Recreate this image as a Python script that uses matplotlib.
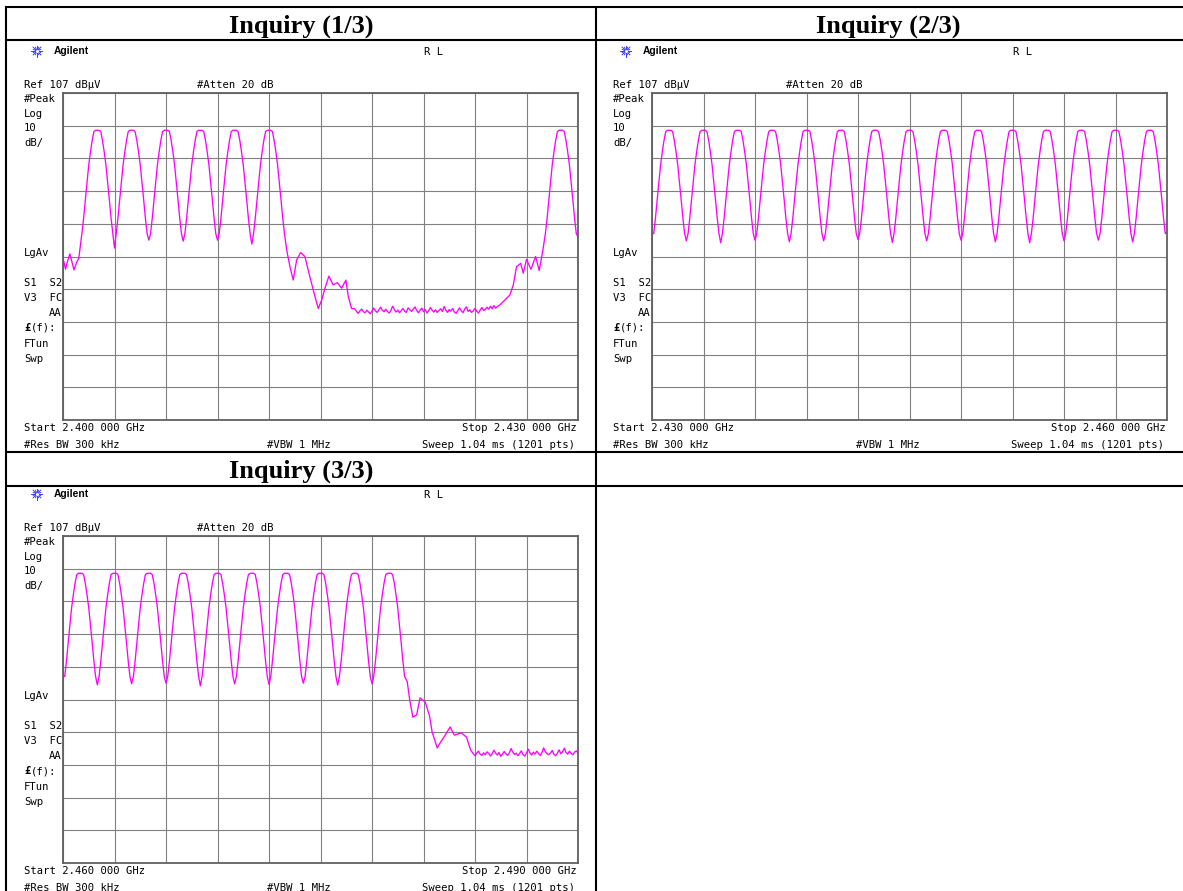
#! /usr/bin/env python3
#
import matplotlib
matplotlib.use('Agg')
import matplotlib.pyplot as plt
import numpy as np

W, H = 1183, 891

titles = ['Inquiry (1/3)', 'Inquiry (2/3)', 'Inquiry (3/3)']
f_start = [2400, 2430, 2460]     # MHz
f_stop = [2430, 2460, 2490]
ref_level = 107                  # dBuV
atten = 20
db_div = 10
res_bw = '300 kHz'
vbw = '1 MHz'
sweep = '1.04 ms (1201 pts)'

# inquiry burst centres seen on each sweep (MHz)
chan_1_low = [2402, 2404, 2406, 2408, 2410, 2412]
chan_1_high = [2429]
chan_2 = [2431, 2433, 2435, 2437, 2439, 2441, 2443, 2445,
          2447, 2449, 2451, 2453, 2455, 2457, 2459]
chan_3 = [2461, 2463, 2465, 2467, 2469, 2471, 2473, 2475, 2477, 2479]

# max-hold shape of one burst: offset from centre (MHz), level (dBuV)
burst_off = [-0.9, -0.8, -0.7, -0.6, -0.5, -0.4, -0.3, -0.2, -0.1, 0.0,
             0.1, 0.2, 0.3, 0.4, 0.5, 0.6, 0.7, 0.8, 0.9]
burst_lvl = [64.0, 68.7, 74.3, 79.7, 85.0, 89.0, 92.5, 95.2, 95.6, 95.6,
             95.6, 95.2, 92.5, 89.0, 85.0, 79.7, 74.3, 68.7, 64.0]

# dips between neighbouring bursts (dBuV)
dip_1 = [59.6, 62.0, 61.7, 62.0, 60.8]
dip_2 = [61.8, 61.2, 62.0, 61.5, 61.8, 62.2, 61.3, 61.8, 62.0, 61.5,
         61.2, 61.8, 62.0, 61.5]
dip_3 = [61.5, 61.8, 62.0, 61.2, 61.8, 61.6, 62.0, 61.4, 61.8]

# sweep 1: left edge, skirt after 2412, rise before 2429
edge_1_f = [2400.0, 2400.15, 2400.25, 2400.4, 2400.52, 2400.64, 2400.8, 2400.92]
edge_1_db = [56.5, 53.1, 55.3, 57.8, 55.3, 52.9, 55.3, 56.5]
skirt_1_f = [2413.03, 2413.22, 2413.41, 2413.61, 2413.84, 2414.09, 2414.38,
             2414.68, 2414.87, 2415.07, 2415.26, 2415.49, 2415.74, 2415.98,
             2416.23, 2416.48, 2416.62, 2416.81]
skirt_1_db = [59.0, 53.9, 49.8, 55.9, 58.2, 57.0, 50.8, 44.7, 41.1, 43.7,
              47.3, 51.0, 48.3, 49.0, 47.3, 49.8, 44.7, 41.1]
floor_1_start = 2417.0
floor_1 = [41.0, 40.2, 39.6, 40.4, 40.9, 40.1, 39.8, 40.6, 40.0, 39.5,
           40.3, 41.2, 40.4, 39.9, 40.7, 41.5, 40.6, 40.1, 40.9, 40.2,
           39.7, 40.5, 41.8, 40.8, 40.0, 40.6, 39.8, 40.4, 41.1, 40.3,
           39.9, 41.3, 40.7, 40.2, 40.9, 41.6, 40.5, 39.8, 40.6, 41.2,
           40.1, 40.8, 39.7, 40.4, 41.4, 40.6, 40.0, 40.7, 39.9, 40.5,
           41.0, 40.2, 41.7, 40.6, 39.9, 40.8, 40.3, 41.1, 40.0, 39.6,
           40.5, 41.3, 40.4, 39.8, 40.9, 41.6, 40.2, 40.7, 39.9, 40.4,
           41.1, 40.3, 39.7, 40.6, 41.4, 40.5, 40.8, 41.5, 40.9, 41.8,
           41.0, 42.0, 41.2, 41.7]
rise_1_f = [2425.45, 2425.74, 2426.03, 2426.23, 2426.42, 2426.66, 2426.81,
            2427.0, 2427.26, 2427.53, 2427.74, 2427.94]
rise_1_db = [42.2, 43.7, 45.2, 48.3, 53.9, 54.9, 51.9, 56.1, 53.1, 57.0, 52.7, 58.5]
end_1 = [2430.0, 63.0]

# sweep 2 edges
edge_2 = [2430.0, 64.0]
end_2 = [2460.0, 64.5]

# sweep 3: left edge, skirt after 2479
edge_3 = [2460.0, 64.5]
tail_3_f = [2480.05, 2480.2, 2480.38, 2480.6, 2480.8, 2481.1, 2481.35, 2481.5,
            2481.8, 2482.0, 2482.25, 2482.55, 2482.8, 2483.2, 2483.5, 2483.75]
tail_3_db = [62.5, 56.8, 51.6, 52.3, 57.5, 56.2, 52.0, 47.1, 42.2, 44.0,
             46.0, 48.6, 46.1, 46.8, 45.5, 41.5]
floor_3_start = 2483.9
floor_3 = [40.4, 39.8, 40.6, 41.2, 40.3, 39.9, 40.7, 40.1, 41.0, 40.5,
           39.7, 40.4, 41.5, 40.6, 40.0, 40.8, 39.6, 40.3, 41.1, 40.4,
           39.9, 40.7, 42.0, 40.9, 40.2, 40.6, 39.8, 40.5, 41.3, 40.1,
           39.7, 40.6, 41.8, 40.7, 40.0, 40.9, 40.3, 41.2, 40.5, 39.9,
           40.8, 42.2, 41.0, 40.4, 40.1, 40.7, 41.4, 40.2, 39.8, 40.6,
           41.6, 40.4, 41.0, 42.1, 40.8, 40.3, 41.2, 40.5, 40.1, 40.9,
           41.3, 40.6]


def burst(c):
    return [c + o for o in burst_off], list(burst_lvl)


def bursts(chans, dips):
    parts = []
    for i, c in enumerate(chans):
        parts.append(burst(c))
        if i < len(dips):
            parts.append(([c + 1.0], [dips[i]]))
    return parts


def floor(f0, lvls):
    return [f0 + 0.1 * i for i in range(len(lvls))], list(lvls)


def join(parts):
    f, y = [], []
    for pf, py in parts:
        f += list(pf)
        y += list(py)
    return np.array(f), np.array(y)


trace_1 = join([(edge_1_f, edge_1_db)] + bursts(chan_1_low, dip_1)
               + [(skirt_1_f, skirt_1_db), floor(floor_1_start, floor_1),
                  (rise_1_f, rise_1_db)]
               + bursts(chan_1_high, []) + [([end_1[0]], [end_1[1]])])
trace_2 = join([([edge_2[0]], [edge_2[1]])] + bursts(chan_2, dip_2)
               + [([end_2[0]], [end_2[1]])])
trace_3 = join([([edge_3[0]], [edge_3[1]])] + bursts(chan_3, dip_3)
               + [(tail_3_f, tail_3_db), floor(floor_3_start, floor_3)])
traces = [trace_1, trace_2, trace_3]

fig = plt.figure(figsize=(W / 100, H / 100), dpi=100)
fig.patch.set_facecolor('white')

# page canvas in pixel units
cv = fig.add_axes([0, 0, 1, 1])
cv.set_xlim(0, W)
cv.set_ylim(H, 0)
cv.axis('off')

# table rules
lw_tab = 1.5
for y in [7, 40, 452, 486]:
    cv.plot([6, W], [y, y], color='black', lw=lw_tab, solid_capstyle='butt')
for x in [6.5, 596]:
    cv.plot([x, x], [6, H], color='black', lw=lw_tab, solid_capstyle='butt')

serif = dict(family='Liberation Serif', weight='bold', size=19)
cv.text(301, 33, titles[0], ha='center', va='baseline', **serif)
cv.text(888.5, 33, titles[1], ha='center', va='baseline', **serif)
cv.text(301, 478, titles[2], ha='center', va='baseline', **serif)

mono = dict(family='DejaVu Sans Mono', size=7.6, va='baseline', color='black')

# screen offsets of each sweep
offsets = [(0, 0), (589, 0), (0, 443)]
box_w, box_h = 515, 327
box_x, box_y = 63, 93

for k in range(3):
    dx, dy = offsets[k]

    # Agilent spark logo
    cx, cy = 37 + dx, 51 + dy
    for a in np.arange(0, 180, 22.5):
        r = 5.5 if a % 45 == 0 else 4.0
        ex, ey = r * np.cos(np.radians(a)), r * np.sin(np.radians(a))
        cv.plot([cx - ex, cx + ex], [cy - ey, cy + ey], color='#3c3cff', lw=0.7)
    cv.plot([cx], [cy], 'o', color='white', ms=2.2, mec='none')
    cv.text(54 + dx, 51 + dy, 'Agilent', family='Liberation Sans', weight='bold',
            size=7.4, va='center')
    cv.text(424 + dx, 55 + dy, 'R L', **mono)

    cv.text(24 + dx, 88 + dy, 'Ref %d dB\u03bcV' % ref_level, **mono)
    cv.text(197 + dx, 88 + dy, '#Atten %d dB' % atten, **mono)
    left_labels = [('#Peak', 102), ('Log', 117), ('%d' % db_div, 131), ('dB/', 146),
                   ('LgAv', 256), ('S1  S2', 286), ('V3  FC', 301),
                   ('FTun', 347), ('Swp', 362)]
    for s, y in left_labels:
        cv.text(24 + dx, y + dy, s, **mono)
    cv.text(62 + dx, 316 + dy, 'AA', ha='right', **mono)
    cv.text(24 + dx, 331 + dy, '\u00a3', family='DejaVu Sans Mono', weight='bold',
            size=7.6, va='baseline')
    cv.text(30.5 + dx, 331 + dy, '(f):', **mono)

    cv.text(24 + dx, 431 + dy, 'Start %.3f 000 GHz' % (f_start[k] / 1000), **mono)
    cv.text(577 + dx, 431 + dy, 'Stop %.3f 000 GHz' % (f_stop[k] / 1000),
            ha='right', **mono)
    cv.text(24 + dx, 448 + dy, '#Res BW ' + res_bw, **mono)
    cv.text(267 + dx, 448 + dy, '#VBW ' + vbw, **mono)
    cv.text(575 + dx, 448 + dy, 'Sweep ' + sweep, ha='right', **mono)

    # graticule and trace
    x0, y0 = box_x + dx, box_y + dy
    ax = fig.add_axes([x0 / W, 1 - (y0 + box_h) / H, box_w / W, box_h / H])
    bottom = ref_level - 10 * db_div
    ax.set_xlim(f_start[k], f_stop[k])
    ax.set_ylim(bottom, ref_level)
    ax.set_xticks(np.linspace(f_start[k], f_stop[k], 11))
    ax.set_yticks(np.linspace(bottom, ref_level, 11))
    ax.tick_params(length=0, labelbottom=False, labelleft=False)
    ax.grid(True, color='#808080', lw=0.8)
    for sp in ax.spines.values():
        sp.set_color('#606060')
        sp.set_linewidth(1.3)
    f, lvl = traces[k]
    ax.plot(f, lvl, color='#ff00ff', lw=0.95)

fig.savefig('out.png', dpi=100)
